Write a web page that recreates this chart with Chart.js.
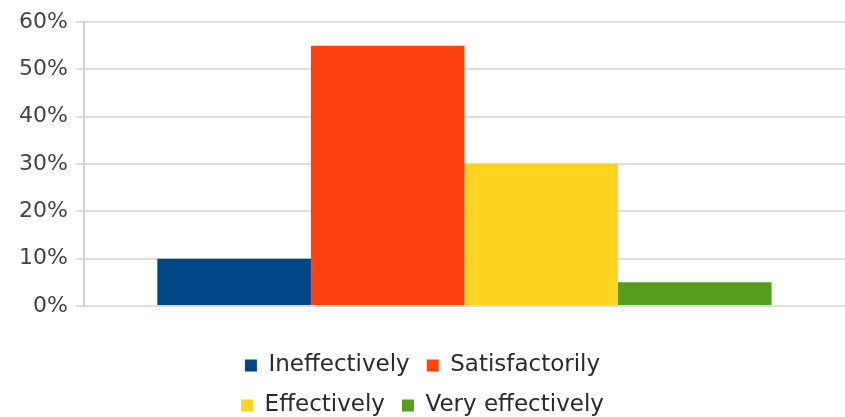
<!DOCTYPE html>
<html>
<head>
<meta charset="utf-8">
<script src="https://cdn.jsdelivr.net/npm/chart.js@4/dist/chart.umd.min.js"></script>
<style>
  html, body { margin: 0; padding: 0; background: #ffffff; }
  #wrap { width: 845px; height: 417px; position: relative; }
</style>
</head>
<body>
<div id="wrap"><canvas id="c"></canvas></div>
<script>
// ---- data ----
const categories = [''];
const seriesNames = ['Ineffectively', 'Satisfactorily', 'Effectively', 'Very effectively'];
const seriesValues = [10, 55, 30, 5];
const seriesColors = ['#004586', '#ff420e', '#ffd320', '#579d1c'];
const yTickLabels = ['0%', '10%', '20%', '30%', '40%', '50%', '60%'];

// ---- layout helpers ----
const FONT = 'DejaVu Sans';
const LEGEND_W = 470;     // legend wraps into two rows like the reference
const LEGEND_TRIM = 10;   // pull legend rows down toward the bottom edge
const X_GAP = 31;         // space between plot and legend

const legendWrap = {
  id: 'legendWrap',
  beforeUpdate(chart) {
    const lg = chart.legend;
    if (!lg || lg.__wrapped) return;
    const upd = lg.update;
    lg.update = function (maxWidth, maxHeight, margins) {
      upd.call(this, Math.min(maxWidth, LEGEND_W), maxHeight, margins);
      this.height = Math.max(0, this.height - LEGEND_TRIM);
    };
    lg.__wrapped = true;
  },
  afterLayout(chart) {
    const lg = chart.legend;
    if (!lg) return;
    lg.left = (chart.width - LEGEND_W) / 2;
    lg.right = lg.left + LEGEND_W;
    lg.width = LEGEND_W;
  }
};

const datasets = seriesNames.map((name, i) => ({
  label: name,
  data: [seriesValues[i]],
  backgroundColor: seriesColors[i],
  borderWidth: 0,
  barPercentage: 1.0,
  categoryPercentage: 0.807
}));

new Chart(document.getElementById('c'), {
  type: 'bar',
  data: { labels: categories, datasets },
  options: {
    responsive: true,
    maintainAspectRatio: false,
    animation: false,
    devicePixelRatio: 1,
    layout: { padding: { top: 22, left: 11, right: 0, bottom: 0 } },
    plugins: {
      tooltip: { enabled: false },
      legend: {
        position: 'bottom',
        align: 'center',
        labels: {
          boxWidth: 12,
          boxHeight: 12,
          padding: 17,
          color: '#2a2a2a',
          font: { family: FONT, size: 23 }
        }
      }
    },
    scales: {
      x: {
        display: true,
        grid: { display: false },
        border: { display: false },
        ticks: { display: false },
        afterFit(s) { s.height = X_GAP; }
      },
      y: {
        min: 0,
        max: 60,
        ticks: {
          stepSize: 10,
          padding: 8,
          color: '#444444',
          font: { family: FONT, size: 22 },
          callback: (v, i) => yTickLabels[i]
        },
        grid: { color: '#dddddd', lineWidth: 2, tickLength: 8, drawTicks: true },
        border: { display: true, color: '#d2d2d2', width: 2 }
      }
    }
  },
  plugins: [legendWrap]
});
</script>
</body>
</html>
